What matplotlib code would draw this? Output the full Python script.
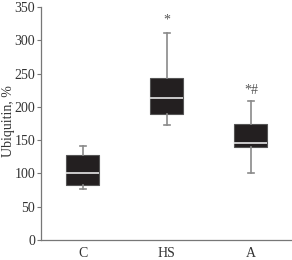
import matplotlib
matplotlib.use("Agg")
import matplotlib.pyplot as plt

groups = ["C", "HS", "A"]
whisker_low = [76, 173, 101]
q1 = [83, 190, 140]
median = [100, 213, 146]
q3 = [127, 244, 175]
whisker_high = [141, 311, 209]
annotations = ["*", "*", "*#"]
annot_y = [None, 331, 225]

plt.rcParams['font.family'] = ['Liberation Serif', 'DejaVu Serif']

fig = plt.figure(figsize=(2.92, 2.60), dpi=100)
ax = fig.add_axes([0.140, 0.077, 0.86, 0.896])

stats = []
for i, g in enumerate(groups):
    stats.append(dict(label=g, whislo=whisker_low[i], q1=q1[i], med=median[i],
                      q3=q3[i], whishi=whisker_high[i], fliers=[]))

ax.bxp(stats, positions=[1, 2, 3], widths=0.39, patch_artist=True, showfliers=False,
       boxprops=dict(facecolor='#231f20', edgecolor='#555555', linewidth=0.8),
       medianprops=dict(color='#d8d8d8', linewidth=1.3),
       whiskerprops=dict(color='#8a8a8a', linewidth=1.2),
       capprops=dict(color='#8a8a8a', linewidth=1.2),
       capwidths=0.07)

for i, (a, y) in enumerate(zip(annotations, annot_y)):
    if y is not None:
        ax.text(i + 1, y, a, ha='center', va='center', fontsize=10, color='#555555')

ax.set_xlim(0.5, 3.49)
ax.set_ylim(0, 350)
ax.set_yticks(range(0, 351, 50))
ax.set_xticks([1, 2, 3])
ax.set_xticklabels(groups)
ax.spines['top'].set_visible(False)
ax.spines['right'].set_visible(False)
for s in ['left', 'bottom']:
    ax.spines[s].set_color('#777777')
    ax.spines[s].set_linewidth(0.9)
ax.tick_params(axis='y', length=3, width=0.8, color='#777777', labelsize=10, pad=1, labelcolor='#333333')
ax.tick_params(axis='x', length=0, labelsize=10, pad=5, labelcolor='#333333')
ax.set_ylabel("Ubiquitin, %", fontsize=10, color='#333333', va='center')
ax.yaxis.set_label_coords(-0.128, 0.51)

fig.savefig("out.png", dpi=100)
